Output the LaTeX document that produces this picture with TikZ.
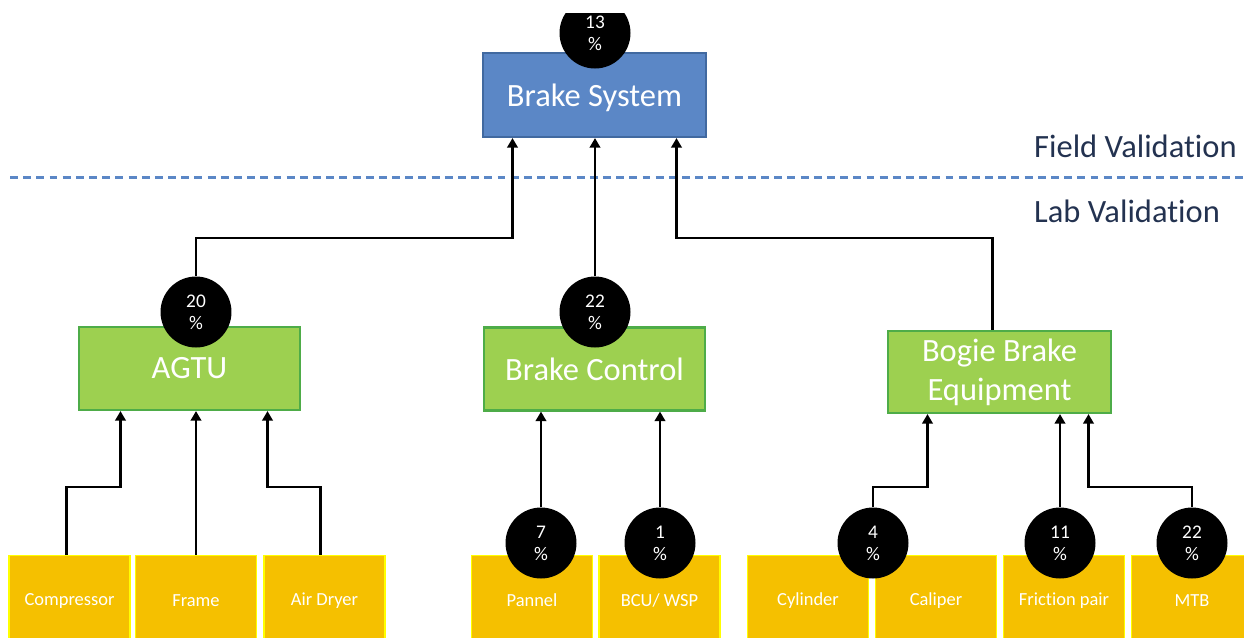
\documentclass[tikz,border=0pt]{standalone}
\usepackage{fontspec}
\setmainfont{Carlito}[RawFeature={-liga}]
\usetikzlibrary{arrows.meta,calc}
\definecolor{sysblue}{RGB}{91,135,198}
\definecolor{sysedge}{RGB}{65,105,160}
\definecolor{subgreen}{RGB}{157,208,80}
\definecolor{subedge}{RGB}{78,172,72}
\definecolor{partgold}{RGB}{245,192,0}
\definecolor{partedge}{RGB}{255,255,0}
\definecolor{labnavy}{RGB}{35,50,80}
\begin{document}
\begin{tikzpicture}[x=0.02cm,y=-0.02cm,
	sysbox/.style={draw=sysedge,fill=sysblue,line width=1.2pt,minimum width=4.46cm,minimum height=1.68cm,text=white,text depth=0pt,font=\fontsize{18.5}{22}\selectfont},
	subbox/.style={draw=subedge,fill=subgreen,line width=1.2pt,minimum width=4.42cm,minimum height=1.66cm,text=white,align=center,font=\fontsize{18.5}{22}\selectfont},
	partbox/.style={draw=partedge,fill=partgold,line width=1pt,minimum width=2.42cm,minimum height=1.8cm,text=white,font=\fontsize{10.5}{12}\selectfont},
	pct/.style={circle,fill=black,minimum size=1.42cm,inner sep=0pt,text=white,align=center,font=\fontsize{11}{12.5}\selectfont},
	conn/.style={line width=1.4pt,-{Triangle[length=5.5pt,width=6pt]}},
	zone/.style={text=labnavy,font=\fontsize{18.5}{22}\selectfont,anchor=west}]
			\useasboundingbox (0,0) rectangle (1244,637);
			\clip (0,13) rectangle (1244,637);
			% field level
			\node[sysbox] (sys) at (594.5,95) {Brake System};
			\draw [sysblue,line width=1.7pt,dash pattern=on 4.5pt off 3pt] (10,177)--(1244,177);
			\node[zone] (field) at (1028,146) {Field Validation};
			\node[zone] (lab) at (1028,211) {Lab Validation};
			% lab level
			\node[subbox] (agtu) at (189.5,368.5) {AGTU};
			\node[subbox] (ctrl) at (594.5,369) {Brake Control};
			\node[subbox,minimum width=4.46cm,minimum height=1.64cm] (bogie) at (999.5,372) {Bogie Brake\\Equipment};
			\foreach \nm/\xx/\txt in {cmp/69.5/Compressor,frm/196/Frame,dry/324.5/Air Dryer,pan/532/Pannel,bcu/659.5/{BCU/ WSP},cyl/808/Cylinder,cal/936/Caliper,fric/1064/Friction pair,mtb/1192/MTB}{
				\node[partbox] (\nm) at (\xx,600.5) {\txt};
			}
			\foreach \nm/\xx/\yy/\val in {p13/595/33/13,p20/196/312/20,p22/595/312/22,p7/541/543/7,p1/660/543/1,p4/873/543/4,p11/1060/543/11,p22b/1192/543/22}{
				\node[pct] (\nm) at (\xx,\yy) {\val\\\%};
			}
			% connectors
			\draw [conn] (p20.north) |- ($(sys.south)+(-82,100)$) -- ($(sys.south)+(-82,0)$);
			\draw [conn] (p22.north) -- (p22.north |- sys.south);
			\draw [conn] ($(bogie.north)+(-7,0)$) |- ($(sys.south)+(82,100)$) -- ($(sys.south)+(82,0)$);
			\draw [conn] ($(cmp.north)+(-3,0)$) |- ($(agtu.south)+(-69,76)$) -- ($(agtu.south)+(-69,0)$);
			\draw [conn] (frm.north) -- (frm.north |- agtu.south);
			\draw [conn] ($(dry.north)+(-4,0)$) |- ($(agtu.south)+(78,76)$) -- ($(agtu.south)+(78,0)$);
			\draw [conn] (p7.north) -- (p7.north |- ctrl.south);
			\draw [conn] (p1.north) -- (p1.north |- ctrl.south);
			\draw [conn] (p4.north) |- ($(bogie.south)+(-72,73)$) -- ($(bogie.south)+(-72,0)$);
			\draw [conn] (p11.north) -- (p11.north |- bogie.south);
			\draw [conn] (p22b.north) |- ($(bogie.south)+(89,73)$) -- ($(bogie.south)+(89,0)$);
\end{tikzpicture}
\end{document}
